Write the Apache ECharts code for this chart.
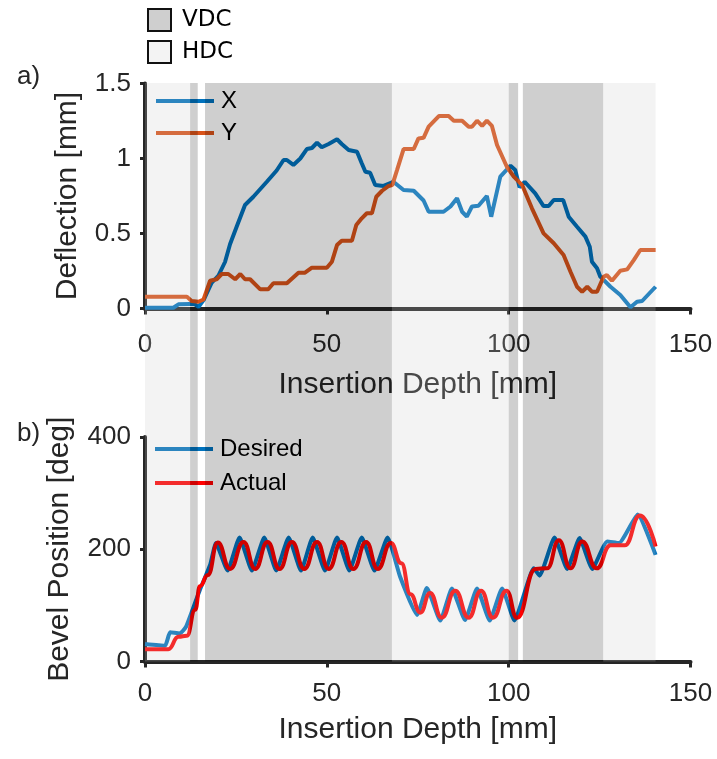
<!DOCTYPE html>
<html>
<head>
<meta charset="utf-8">
<script src="https://cdn.jsdelivr.net/npm/echarts@6/dist/echarts.min.js"></script>
<style>html,body{margin:0;padding:0;background:#fff}#c{width:717px;height:759px}</style>
</head>
<body>
<div id="c"></div>
<script>
// ---- Panel a: deflection ----
const xDepth = [0,7.8,9.2,12.4,13.6,14.7,16.2,18.3,20.2,22,23.4,25.2,27.5,29.8,33.5,36.2,38.1,39,40.8,42.7,44.5,45.9,47.3,48.6,50.5,52.8,54.1,56,58.3,59.6,60.6,61.9,63.3,65.6,68.3,71.1,73.9,76.6,78,82.1,84,85.8,87.2,88.5,89.9,91.7,94,95.2,97.7,100.5,101.8,103,104.4,107.3,109.6,111,112.4,115,116.5,118.8,121.1,122.3,122.9,124.3,125.2,128,130.7,133.5,135.3,136.7,140.4];
const xDefl = [0.005,0.005,0.028,0.03,0.03,0.01,0.06,0.17,0.22,0.31,0.43,0.545,0.69,0.745,0.845,0.92,0.99,0.99,0.957,1.0,1.063,1.07,1.105,1.075,1.097,1.128,1.097,1.057,1.045,0.968,0.912,0.905,0.823,0.817,0.845,0.79,0.785,0.72,0.645,0.645,0.68,0.735,0.645,0.612,0.68,0.685,0.75,0.612,0.879,0.952,0.923,0.808,0.845,0.768,0.683,0.683,0.723,0.723,0.612,0.545,0.479,0.412,0.312,0.268,0.212,0.145,0.09,0.008,0.045,0.05,0.145];
const yDepth = [0,11.5,12.8,14.7,16.1,17.9,19.7,21.1,22.9,24.8,26.2,27.5,28.9,31.7,33.9,35.3,39,42.2,44,45.9,50,51.4,52.8,54.1,56.9,58.1,59.6,61,62.4,63.6,65.2,67,68,69.3,71.1,73.9,75.2,76.6,78,80.8,83.5,84.9,87.2,89,89.9,91.3,92.7,94,95.4,96.8,99.5,101.4,103.7,106.4,109.6,112.4,115.1,117,118.8,120.2,121.6,122.9,124.3,126.1,127,128.4,130.7,132.6,134.4,136.2,140.4];
const yDefl = [0.079,0.079,0.05,0.045,0.06,0.185,0.195,0.23,0.23,0.195,0.23,0.195,0.195,0.128,0.128,0.168,0.168,0.239,0.239,0.272,0.272,0.312,0.423,0.452,0.452,0.557,0.601,0.635,0.635,0.745,0.785,0.817,0.823,0.923,1.063,1.063,1.134,1.138,1.212,1.283,1.283,1.252,1.252,1.212,1.212,1.252,1.217,1.252,1.217,1.09,0.945,0.879,0.823,0.668,0.501,0.435,0.357,0.245,0.145,0.112,0.145,0.112,0.112,0.212,0.223,0.185,0.252,0.261,0.323,0.39,0.39];

// ---- Panel b: bevel position ----
const desDepth = [0,5.5,6.9,9.6,11.3,15.1,17.9,19.5,22.7,26,29.4,32.8,36.1,39.5,42.9,46.1,49.5,52.8,56.2,59.6,63.1,66.7,70.2,74.8,77.5,81.2,84.4,88,91.3,94.8,98.2,101.6,106.9,108.5,112.6,116.1,119.5,123,127.1,130.3,135.5,140.4];
const desVal = [31,28,52,50,62,128,172,211,162,221,162,221,162,221,162,221,162,221,162,221,162,221,150,83,131,73,130,74,130,73,130,73,166,153,221,165,220,165,214,211,262,190];
const actDepth = [0,6.4,9.2,11.5,13.8,15.1,17.3,20,23.4,27.1,30.3,33.7,37,40.4,43.8,47.3,50.5,54,57.3,60.8,64,67.6,70.5,73,75.7,78.4,81.6,85.3,89,92.4,95.7,99.4,102.3,107.4,110.6,113.8,117,120.2,124.2,128,131.9,136.1,140.4];
const actVal = [22,22,44,46,92,134,154,212,165,213,165,213,165,213,165,213,165,213,165,213,165,211,175,120,87,122,78,126,78,126,78,126,78,165,166,216,166,214,166,207,207,260,205];

// ---- Shaded regions (insertion depth, mm) ----
const vdcRanges = [[12.4,14.5],[16.5,67.9],[100,102.6],[103.9,126]];
const hdcRanges = [[0,12.4],[67.9,100],[126,140.4]];

const zip = (a,b) => a.map((v,i) => [v,b[i]]);
const FONT = "'Liberation Sans', Arial, sans-serif";
const TXT = '#262626';

function xAx(idx, labelMargin, nameGap) {
  return {
    gridIndex: idx, type: 'value', min: 0, max: 150, interval: 50,
    name: 'Insertion Depth [mm]', nameLocation: 'middle', nameGap: nameGap,
    nameTextStyle: {fontFamily: FONT, fontSize: 30, color: TXT},
    axisLine: {show: true, onZero: false, lineStyle: {color: TXT, width: 4}},
    axisTick: {show: true, length: 6, inside: false, lineStyle: {color: TXT, width: 3}},
    axisLabel: {fontFamily: FONT, fontSize: 26, color: TXT, margin: labelMargin},
    splitLine: {show: false}
  };
}
function yAx(idx, max, interval, name, gap) {
  return {
    gridIndex: idx, type: 'value', min: 0, max: max, interval: interval,
    name: name, nameLocation: 'middle', nameGap: gap,
    nameTextStyle: {fontFamily: FONT, fontSize: 30, color: TXT},
    axisLine: {show: true, onZero: false, lineStyle: {color: TXT, width: 4}},
    axisTick: {show: true, length: 5, inside: false, lineStyle: {color: TXT, width: 3}},
    axisLabel: {fontFamily: FONT, fontSize: 26, color: TXT, margin: 14},
    splitLine: {show: false}
  };
}

const chart = echarts.init(document.getElementById('c'), null, {renderer: 'canvas'});
const lineSeries = (name, data, color, xi) => ({
  name, type: 'line', data, xAxisIndex: xi, yAxisIndex: xi, showSymbol: false, symbol: 'none',
  lineStyle: {color, width: 4}, itemStyle: {color}, z: 2, silent: true, animation: false
});

chart.setOption({
  animation: false,
  title: [
    {text: 'a)', left: 12, top: 59, textStyle: {fontFamily: FONT, fontSize: 26, fontWeight: 'normal', color: TXT}},
    {text: 'b)', left: 12, top: 416, textStyle: {fontFamily: FONT, fontSize: 26, fontWeight: 'normal', color: TXT}}
  ],
  grid: [
    {left: 145, right: 26.5, top: 83.5, height: 225},
    {left: 145, right: 26.5, top: 437, height: 224.5},
    {left: 145, right: 26.5, top: 83, height: 578.5}
  ],
  xAxis: [xAx(0, 23, 61), xAx(1, 19, 53), {gridIndex: 2, type: 'value', min: 0, max: 150, show: false}],
  yAxis: [
    yAx(0, 1.5, 0.5, 'Deflection [mm]', 62),
    yAx(1, 400, 200, 'Bevel Position [deg]', 70),
    {gridIndex: 2, type: 'value', min: 0, max: 1, show: false}
  ],
  legend: [
    {data: ['X','Y'], orient: 'vertical', left: 156, top: 88, icon: 'rect', itemWidth: 58, itemHeight: 4, itemGap: 6,
     padding: 0, textStyle: {fontFamily: FONT, fontSize: 24, color: '#000', lineHeight: 26, padding: [0,0,0,2]}, selectedMode: false},
    {data: ['Desired','Actual'], orient: 'vertical', left: 155, top: 436, icon: 'rect', itemWidth: 58, itemHeight: 4, itemGap: 8,
     padding: 0, textStyle: {fontFamily: FONT, fontSize: 24, color: '#000', lineHeight: 26, padding: [0,0,0,2]}, selectedMode: false},
    {data: [{name: 'VDC', itemStyle: {color: '#cfcfcf'}}, {name: 'HDC', itemStyle: {color: '#f3f3f3'}}],
     orient: 'vertical', left: 147, top: 8, icon: 'rect', itemWidth: 23, itemHeight: 22, itemGap: 8, padding: 0,
     itemStyle: {borderColor: '#111', borderWidth: 2},
     textStyle: {fontFamily: "'DejaVu Sans', sans-serif", fontSize: 23, color: '#000', padding: [0,0,0,6]}, selectedMode: false}
  ],
  series: [
    lineSeries('X', zip(xDepth, xDefl), '#0072BD', 0),
    lineSeries('Y', zip(yDepth, yDefl), '#D95319', 0),
    Object.assign(lineSeries('Desired', zip(desDepth, desVal), '#0072BD', 1), {smooth: 0.15}),
    Object.assign(lineSeries('Actual', zip(actDepth, actVal), '#FF0000', 1), {smooth: 0.5, smoothMonotone: 'x'}),
    {name: 'VDC', type: 'line', xAxisIndex: 2, yAxisIndex: 2, data: [], z: 10, silent: true,
     itemStyle: {color: '#cfcfcf'},
     markArea: {silent: true, z: 10, itemStyle: {color: 'rgba(0,0,0,0.19)'}, data: vdcRanges.map(r => [{xAxis: r[0]}, {xAxis: r[1]}])}},
    {name: 'HDC', type: 'line', xAxisIndex: 2, yAxisIndex: 2, data: [], z: 10, silent: true,
     itemStyle: {color: '#f3f3f3'},
     markArea: {silent: true, z: 10, itemStyle: {color: 'rgba(200,200,200,0.22)'}, data: hdcRanges.map(r => [{xAxis: r[0]}, {xAxis: r[1]}])}}
  ]
});
</script>
</body>
</html>
